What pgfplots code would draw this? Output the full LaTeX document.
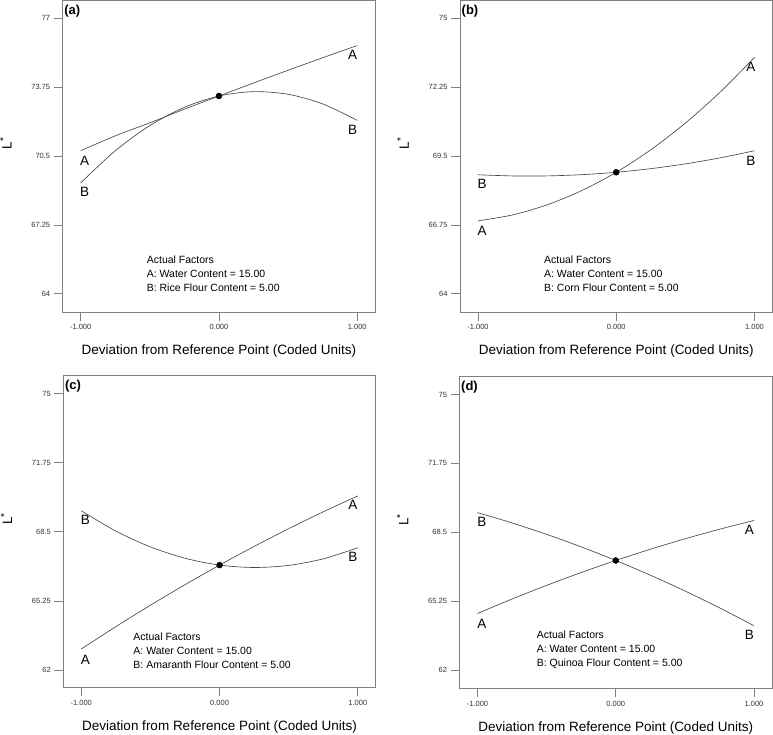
\documentclass[border=0pt]{standalone}
\usepackage{fontspec}
\setmainfont{Liberation Sans}
\usepackage{pgfplots}
\pgfplotsset{compat=1.18}
\pgfplotsset{
  panel/.style={
    scale only axis, width=312.5pt, height=312pt, anchor=south west,
    xmin=-1.13, xmax=1.13,
    xtick={-1,0,1}, xticklabels={-1.000,0.000,1.000},
    axis line style={black!50, line width=0.7pt},
    every tick/.style={black!50, line width=0.7pt},
    tick align=outside, tick pos=left,
    major tick length=9pt,
    ticklabel style={font=\fontsize{7.5}{8}\selectfont, text=black!80},
    xlabel={Deviation from Reference Point (Coded Units)},
    ylabel={L\raisebox{0.35em}{\fontsize{10}{10}\selectfont *}},
    label style={font=\fontsize{13.5}{16}\selectfont},
    xlabel style={at={(axis description cs:0.5,0)}, anchor=center, yshift=-39.4pt},
    ylabel style={at={(axis description cs:-0.182,0.54)}, anchor=center},
    clip=false,
  },
  curve/.style={black!72, line width=0.65pt, smooth, mark=none},
  dot/.style={only marks, mark=*, mark size=3pt, black},
}
\tikzset{
  lab/.style={font=\fontsize{13.5}{16}\selectfont, inner sep=0pt},
  fac/.style={font=\fontsize{10.5}{14}\selectfont, align=left, anchor=west, inner sep=0pt},
  tag/.style={font=\bfseries\fontsize{13}{15}\selectfont, anchor=north west, inner sep=0pt, xshift=1.5pt, yshift=-5pt},
}
\begin{document}
\begin{tikzpicture}[x=1pt,y=1pt]
\useasboundingbox (0,0) rectangle (773,735);
% (a)
\begin{axis}[panel, at={(62.7pt,423pt)},
  ymin=63.14, ymax=77.86,
  ytick={64,67.25,70.5,73.75,77}, yticklabels={64,67.25,70.5,73.75,77}]
\addplot[curve] coordinates {(-1,70.75) (-0.75,71.45) (-0.5,72.065) (-0.25,72.71) (0,73.33) (0.25,73.944) (0.5,74.545) (0.75,75.134) (1,75.71)};
\addplot[curve] coordinates {(-1,69.23) (-0.75,70.747) (-0.5,71.936) (-0.25,72.797) (0,73.33) (0.25,73.535) (0.5,73.411) (0.75,72.959) (1,72.18)};
\addplot[dot] coordinates {(0,73.33)};
\node[lab] at (axis cs:-0.971,70.28) {A};
\node[lab] at (axis cs:-0.971,68.79) {B};
\node[lab] at (axis cs:0.967,75.27) {A};
\node[lab] at (axis cs:0.967,71.74) {B};
\node[fac] at (axis cs:-0.523,64.96) {Actual Factors\\A: Water Content = 15.00\\B: Rice Flour Content = 5.00};
\node[tag] at (rel axis cs:0,1) {(a)};
\end{axis}
% (b)
\begin{axis}[panel, at={(460pt,423pt)},
  ymin=63.27, ymax=75.73,
  ytick={64,66.75,69.5,72.25,75}, yticklabels={64,66.75,69.5,72.25,75}]
\addplot[curve] coordinates {(-1,66.91) (-0.75,67.146) (-0.5,67.549) (-0.25,68.117) (0,68.85) (0.25,69.749) (0.5,70.814) (0.75,72.044) (1,73.44)};
\addplot[curve] coordinates {(-1,68.75) (-0.75,68.704) (-0.5,68.705) (-0.25,68.754) (0,68.85) (0.25,68.994) (0.5,69.185) (0.75,69.424) (1,69.71)};
\addplot[dot] coordinates {(0,68.85)};
\node[lab] at (axis cs:-0.970,68.38) {B};
\node[lab] at (axis cs:-0.970,66.51) {A};
\node[lab] at (axis cs:0.974,73.07) {A};
\node[lab] at (axis cs:0.974,69.32) {B};
\node[fac] at (axis cs:-0.523,64.8) {Actual Factors\\A: Water Content = 15.00\\B: Corn Flour Content = 5.00};
\node[tag] at (rel axis cs:0,1) {(b)};
\end{axis}
% (c)
\begin{axis}[panel, at={(63.3pt,47.7pt)},
  ymin=61.19, ymax=75.86,
  ytick={62,65.25,68.5,71.75,75}, yticklabels={62,65.25,68.5,71.75,75}]
\addplot[curve] coordinates {(-1,62.99) (-0.75,64.041) (-0.5,65.049) (-0.25,66.013) (0,66.935) (0.25,67.813) (0.5,68.649) (0.75,69.441) (1,70.19)};
\addplot[curve] coordinates {(-1,69.49) (-0.75,68.535) (-0.5,67.791) (-0.25,67.258) (0,66.935) (0.25,66.823) (0.5,66.921) (0.75,67.231) (1,67.75)};
\addplot[dot] coordinates {(0,66.935)};
\node[lab] at (axis cs:-0.971,69.05) {B};
\node[lab] at (axis cs:-0.971,62.47) {A};
\node[lab] at (axis cs:0.964,69.75) {A};
\node[lab] at (axis cs:0.964,67.33) {B};
\node[fac] at (axis cs:-0.624,62.91) {Actual Factors\\A: Water Content = 15.00\\B: Amaranth Flour Content = 5.00};
\node[tag] at (rel axis cs:0,1) {(c)};
\end{axis}
% (d)
\begin{axis}[panel, at={(459.5pt,46.7pt)},
  ymin=61.14, ymax=75.86,
  ytick={62,65.25,68.5,71.75,75}, yticklabels={62,65.25,68.5,71.75,75}]
\addplot[curve] coordinates {(-1,64.67) (-0.75,65.352) (-0.5,65.996) (-0.25,66.602) (0,67.17) (0.25,67.7) (0.5,68.191) (0.75,68.644) (1,69.06)};
\addplot[curve] coordinates {(-1,69.43) (-0.75,68.942) (-0.5,68.403) (-0.25,67.812) (0,67.17) (0.25,66.477) (0.5,65.733) (0.75,64.937) (1,64.09)};
\addplot[dot] coordinates {(0,67.17)};
\node[lab] at (axis cs:-0.969,68.99) {B};
\node[lab] at (axis cs:-0.969,64.2) {A};
\node[lab] at (axis cs:0.966,68.6) {A};
\node[lab] at (axis cs:0.966,63.65) {B};
\node[fac] at (axis cs:-0.572,62.94) {Actual Factors\\A: Water Content = 15.00\\B: Quinoa Flour Content = 5.00};
\node[tag] at (rel axis cs:0,1) {(d)};
\end{axis}
\end{tikzpicture}
\end{document}
